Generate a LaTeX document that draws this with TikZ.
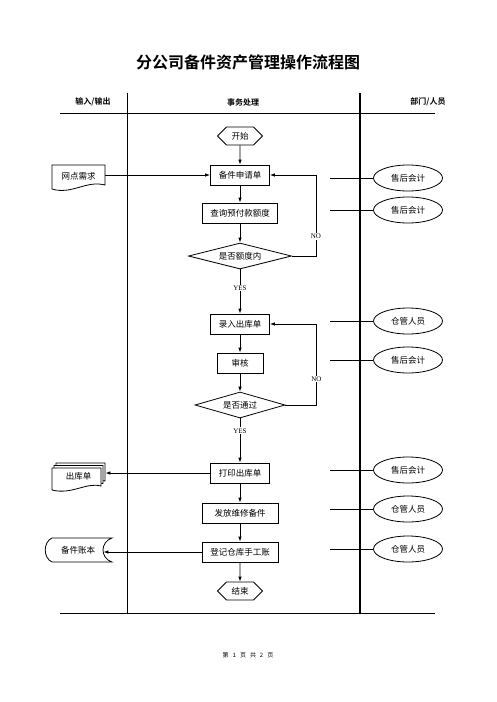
\documentclass[tikz,border=0pt]{standalone}
\usepackage{fontspec}
\setmainfont{Liberation Serif}
\newfontfamily\cjk[BoldFont={Noto Sans CJK SC Bold}]{Noto Sans CJK SC}
\usetikzlibrary{shapes.geometric,shapes.symbols,arrows.meta}

\begin{document}
\begin{tikzpicture}[x=1pt,y=-1pt,line width=0.8pt,
    every node/.style={font=\cjk\fontsize{8.5}{10}\selectfont},
    box/.style={draw, rectangle, minimum height=20pt, inner sep=0pt},
    term/.style={draw, signal, signal to=east and west, minimum width=45pt, minimum height=18pt, inner sep=0pt},
    decision/.style={draw, diamond, aspect=4, minimum height=26pt, inner sep=0pt},
    role/.style={draw, ellipse, minimum width=69pt, minimum height=26pt, inner sep=0pt},
    head/.style={font=\cjk\bfseries\fontsize{8}{9}\selectfont},
    lbl/.style={fill=white, inner sep=1pt, font=\rmfamily\fontsize{7}{8}\selectfont},
    flow/.style={-{Latex[length=5pt,width=3.5pt]}}]
            \useasboundingbox (0,0) rectangle (496,702);

            \node[font=\cjk\bfseries\fontsize{16}{18}\selectfont] (title) at (248,62) {分公司备件资产管理操作流程图};
            \node[head] (hin) at (93,102) {输入/输出};
            \node[head] (hmid) at (243,102) {事务处理};
            \node[head] (hdep) at (428,102) {部门/人员};

            \draw (60,113) -- (435,113);
            \draw (60,613) -- (435,613);
            \draw (127,93) -- (127,613);
            \draw[line width=1.8pt] (360,93) -- (360,613);

            % main flow
            \node[term] (start) at (240,136) {开始};
            \node[box, minimum width=59pt] (apply) at (240,175) {备件申请单};
            \node[box, minimum width=75pt] (check) at (240,213) {查询预付款额度};
            \node[decision, minimum width=103pt] (quota) at (240,256) {是否额度内};
            \node[box, minimum width=59pt] (entry) at (240,324) {录入出库单};
            \node[box, minimum width=46pt] (audit) at (240,363) {审核};
            \node[decision, minimum width=90pt] (pass) at (240,405) {是否通过};
            \node[box, minimum width=59pt] (print) at (240,473) {打印出库单};
            \node[box, minimum width=76pt] (issue) at (240,513) {发放维修备件};
            \node[box, minimum width=76pt] (ledger) at (240,552) {登记仓库手工账};
            \node[term] (stop) at (240,591) {结束};

            % input / output
            \draw (52,165) -- (105,165) -- (105,185) .. controls (86,180) and (72,195) .. (52,189) -- cycle;
            \node[minimum width=53pt, minimum height=25pt, inner sep=0pt] (netreq) at (78.5,176) {网点需求};

            \filldraw[fill=white] (56,463) -- (105,463) -- (105,481) .. controls (90,477) and (76,491) .. (56,486) -- cycle;
            \filldraw[fill=white] (54,465.5) -- (103,465.5) -- (103,483.5) .. controls (88,479.5) and (74,493.5) .. (54,488.5) -- cycle;
            \filldraw[fill=white] (52,468) -- (101,468) -- (101,486) .. controls (86,482) and (72,495) .. (52,490) -- cycle;
            \node[minimum width=53pt, minimum height=25pt, inner sep=0pt] (outslip) at (78.5,476) {出库单};

            \draw (52,538) -- (112,538) .. controls (100,542) and (100,558) .. (112,562) -- (52,562) .. controls (43,558) and (43,542) .. (52,538) -- cycle;
            \node[minimum width=50pt, minimum height=22pt, inner sep=0pt] (book) at (78,550) {备件账本};

            % departments
            \node[role] (acc1) at (408,178) {售后会计};
            \node[role] (acc2) at (408,210) {售后会计};
            \node[role] (keep1) at (408,321) {仓管人员};
            \node[role] (acc3) at (408,360) {售后会计};
            \node[role] (acc4) at (408,470) {售后会计};
            \node[role] (keep2) at (408,509) {仓管人员};
            \node[role] (keep3) at (408,549) {仓管人员};
            \coordinate (acc1l) at (330,178);
            \coordinate (acc2l) at (330,210);
            \coordinate (keep1l) at (330,321);
            \coordinate (acc3l) at (330,360);
            \coordinate (acc4l) at (330,470);
            \coordinate (keep2l) at (330,509);
            \coordinate (keep3l) at (330,549);
            \draw (acc1l) -- (acc1);
            \draw (acc2l) -- (acc2);
            \draw (keep1l) -- (keep1);
            \draw (acc3l) -- (acc3);
            \draw (acc4l) -- (acc4);
            \draw (keep2l) -- (keep2);
            \draw (keep3l) -- (keep3);

            % arrows
            \draw[flow] (start) -- (apply);
            \draw[flow] (netreq.east |- apply) -- (apply);
            \draw[flow] (apply) -- (check);
            \draw[flow] (check) -- (quota);
            \draw[flow] (quota.east) -- ++(24,0) |- node[lbl, pos=0.12] {NO} (apply.east);
            \draw[flow] (quota) -- node[lbl, pos=0.42] {YES} (entry);
            \draw[flow] (entry) -- (audit);
            \draw[flow] (audit) -- (pass);
            \draw[flow] (pass.east) -- ++(31,0) |- node[lbl, pos=0.16] {NO} (entry.east);
            \draw[flow] (pass) -- node[lbl, pos=0.28] {YES} (print);
            \draw[flow] (print.west) -- (print.west -| outslip.east);
            \draw[flow] (print) -- (issue);
            \draw[flow] (issue) -- (ledger);
            \draw[flow] (ledger.west) -- (ledger.west -| book.east);
            \draw[flow] (ledger) -- (stop);

            \node[font=\cjk\fontsize{6}{7}\selectfont] (foot) at (248,655) {第\hspace{4pt}1\hspace{4pt}页\hspace{4pt}共\hspace{4pt}2\hspace{4pt}页};
        \end{tikzpicture}
\end{document}
